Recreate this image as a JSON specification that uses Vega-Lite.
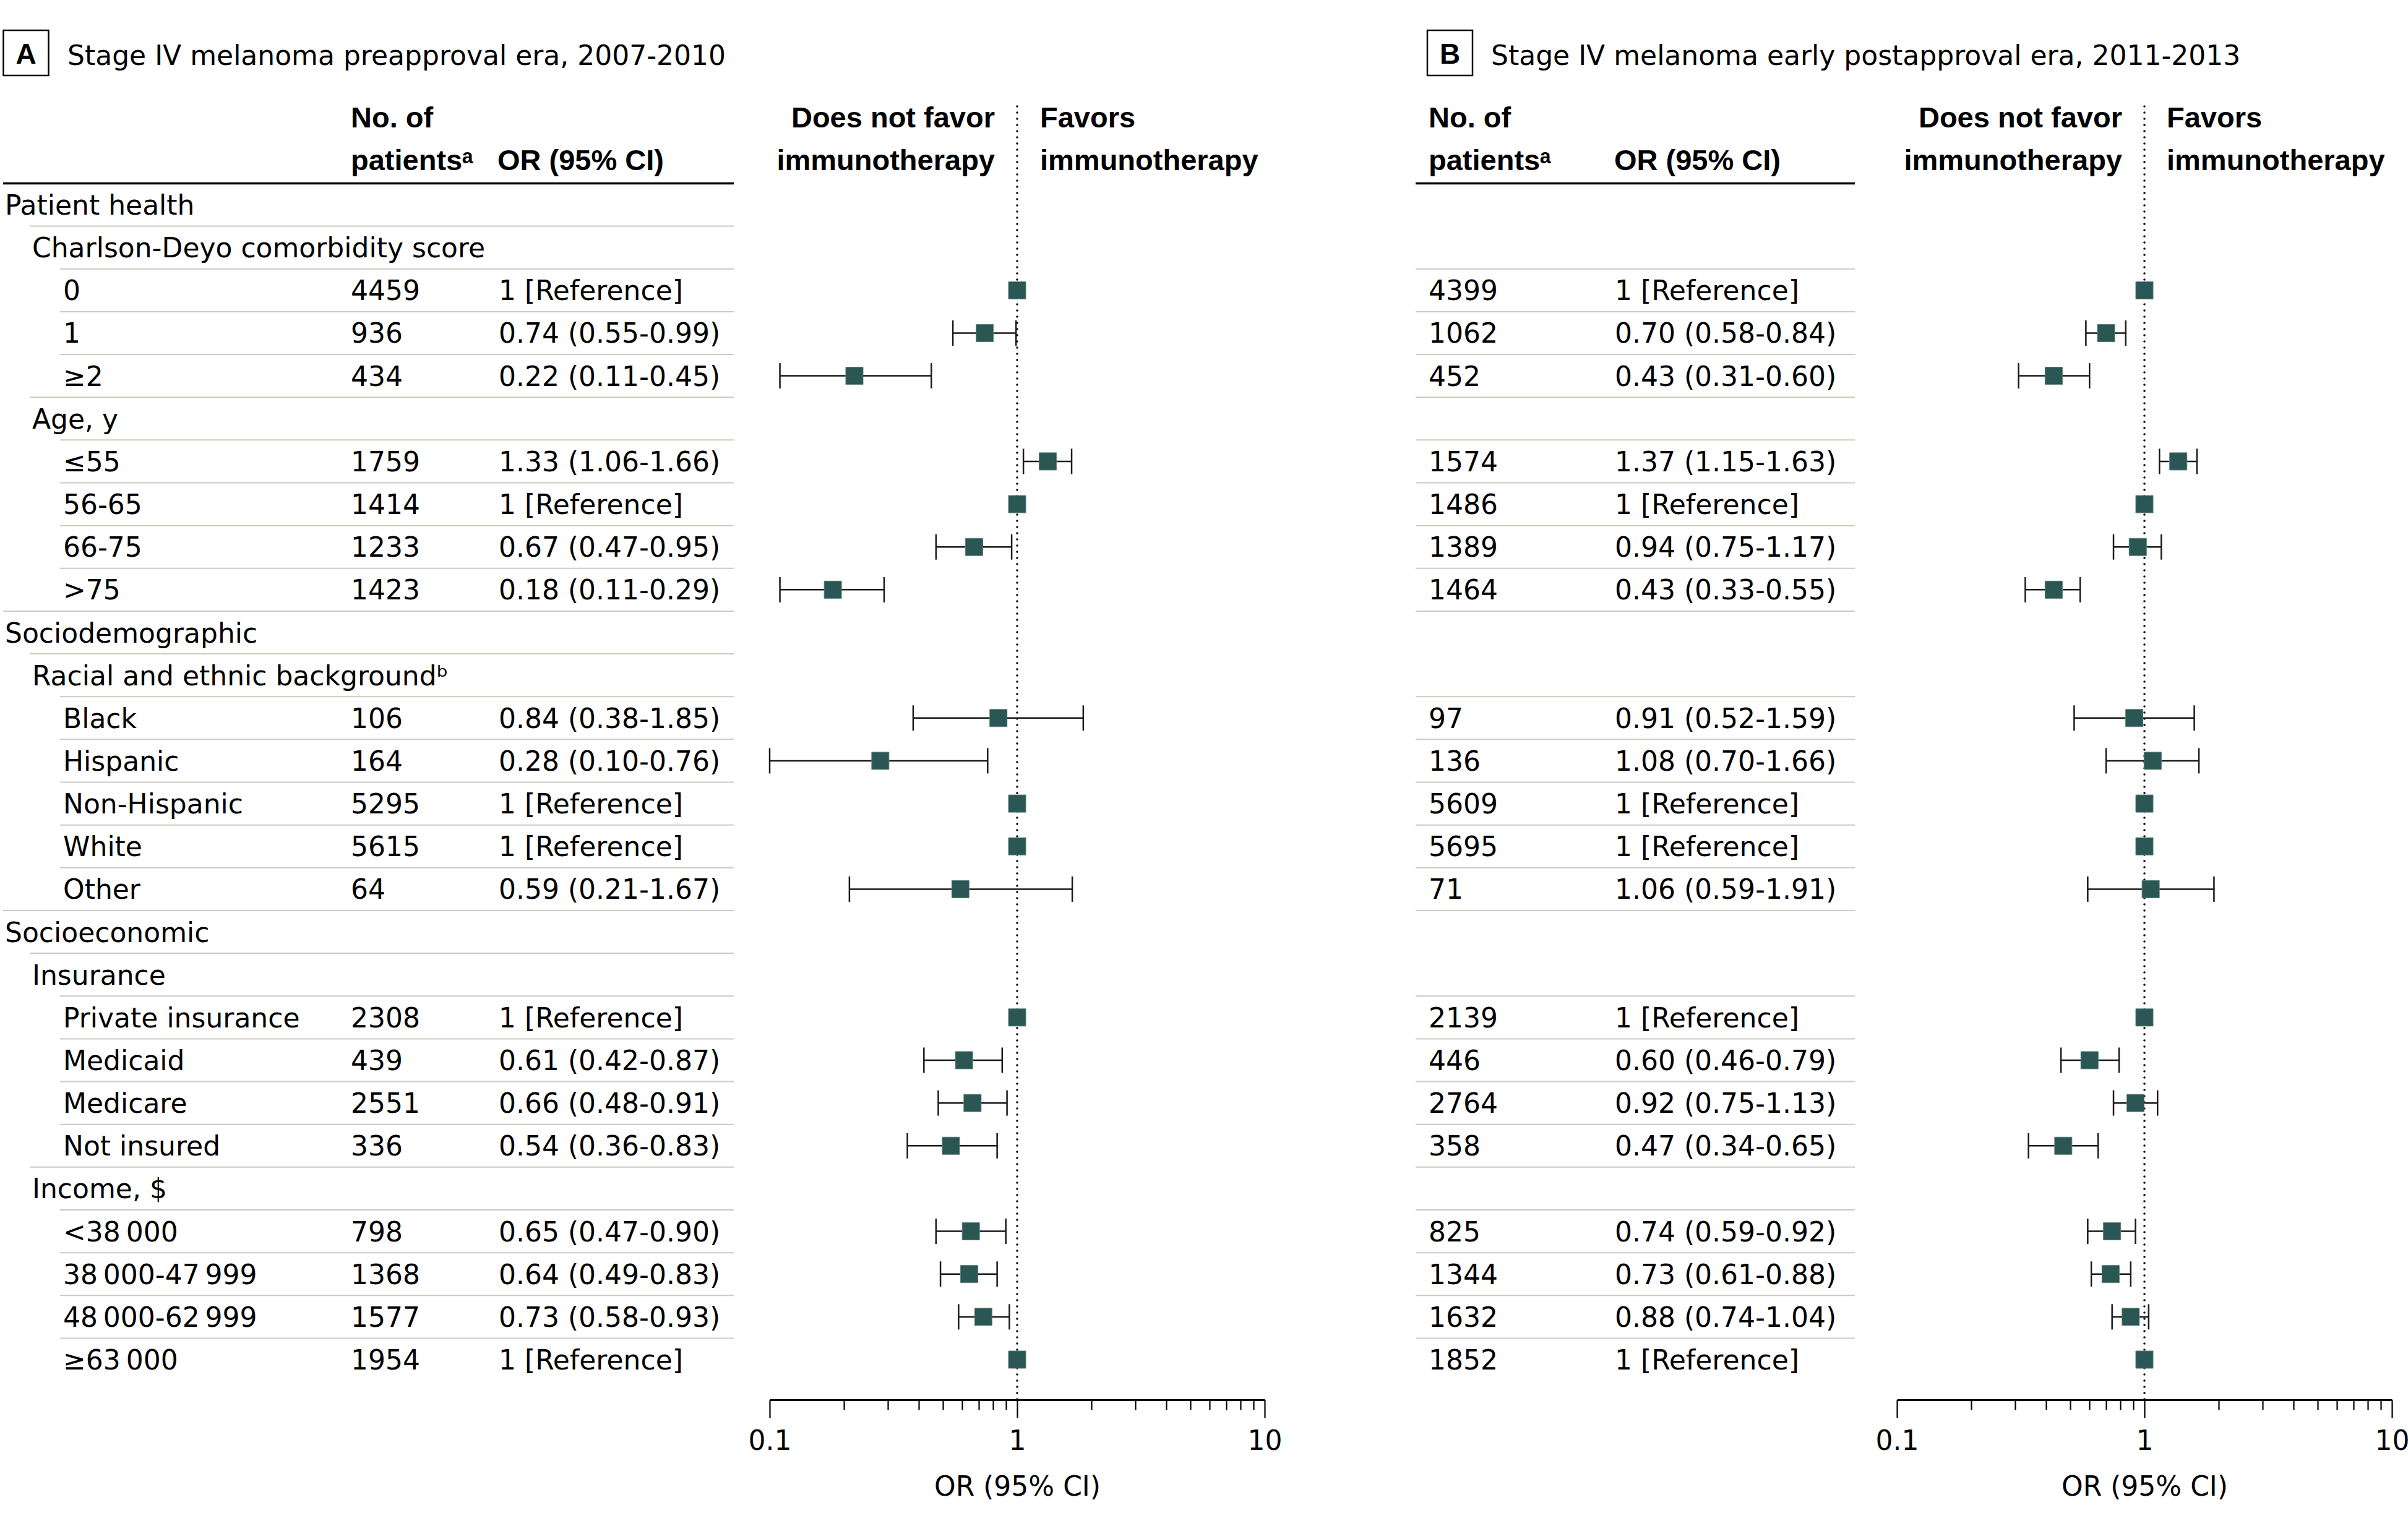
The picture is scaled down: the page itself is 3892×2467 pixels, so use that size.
{
  "$schema": "https://vega.github.io/schema/vega-lite/v6.json",
  "padding": {"left": 0, "top": 0, "right": 0, "bottom": 204},
  "background": "white",
  "spacing": 0,
  "bounds": "flush",
  "config": {"view": {"stroke": null}},
  "datasets": {
    "rows": [
      {"row": "r01", "label": "Patient health", "level": 0},
      {"row": "r02", "label": "Charlson-Deyo comorbidity score", "level": 1},
      {"row": "r03", "label": "0", "level": 2},
      {"row": "r04", "label": "1", "level": 2},
      {"row": "r05", "label": "\u22652", "level": 2},
      {"row": "r06", "label": "Age, y", "level": 1},
      {"row": "r07", "label": "\u226455", "level": 2},
      {"row": "r08", "label": "56-65", "level": 2},
      {"row": "r09", "label": "66-75", "level": 2},
      {"row": "r10", "label": ">75", "level": 2},
      {"row": "r11", "label": "Sociodemographic", "level": 0},
      {"row": "r12", "label": "Racial and ethnic background\u1d47", "level": 1},
      {"row": "r13", "label": "Black", "level": 2},
      {"row": "r14", "label": "Hispanic", "level": 2},
      {"row": "r15", "label": "Non-Hispanic", "level": 2},
      {"row": "r16", "label": "White", "level": 2},
      {"row": "r17", "label": "Other", "level": 2},
      {"row": "r18", "label": "Socioeconomic", "level": 0},
      {"row": "r19", "label": "Insurance", "level": 1},
      {"row": "r20", "label": "Private insurance", "level": 2},
      {"row": "r21", "label": "Medicaid", "level": 2},
      {"row": "r22", "label": "Medicare", "level": 2},
      {"row": "r23", "label": "Not insured", "level": 2},
      {"row": "r24", "label": "Income, $", "level": 1},
      {"row": "r25", "label": "<38\u2009000", "level": 2},
      {"row": "r26", "label": "38\u2009000-47\u2009999", "level": 2},
      {"row": "r27", "label": "48\u2009000-62\u2009999", "level": 2},
      {"row": "r28", "label": "\u226563\u2009000", "level": 2}
    ],
    "estimates": [
      {"panel": "A", "row": "r03", "n": 4459, "ortext": "1 [Reference]", "or": 1},
      {"panel": "A", "row": "r04", "n": 936, "ortext": "0.74 (0.55-0.99)", "or": 0.74, "lo": 0.55, "hi": 0.99},
      {"panel": "A", "row": "r05", "n": 434, "ortext": "0.22 (0.11-0.45)", "or": 0.22, "lo": 0.11, "hi": 0.45},
      {"panel": "A", "row": "r07", "n": 1759, "ortext": "1.33 (1.06-1.66)", "or": 1.33, "lo": 1.06, "hi": 1.66},
      {"panel": "A", "row": "r08", "n": 1414, "ortext": "1 [Reference]", "or": 1},
      {"panel": "A", "row": "r09", "n": 1233, "ortext": "0.67 (0.47-0.95)", "or": 0.67, "lo": 0.47, "hi": 0.95},
      {"panel": "A", "row": "r10", "n": 1423, "ortext": "0.18 (0.11-0.29)", "or": 0.18, "lo": 0.11, "hi": 0.29},
      {"panel": "A", "row": "r13", "n": 106, "ortext": "0.84 (0.38-1.85)", "or": 0.84, "lo": 0.38, "hi": 1.85},
      {"panel": "A", "row": "r14", "n": 164, "ortext": "0.28 (0.10-0.76)", "or": 0.28, "lo": 0.10, "hi": 0.76},
      {"panel": "A", "row": "r15", "n": 5295, "ortext": "1 [Reference]", "or": 1},
      {"panel": "A", "row": "r16", "n": 5615, "ortext": "1 [Reference]", "or": 1},
      {"panel": "A", "row": "r17", "n": 64, "ortext": "0.59 (0.21-1.67)", "or": 0.59, "lo": 0.21, "hi": 1.67},
      {"panel": "A", "row": "r20", "n": 2308, "ortext": "1 [Reference]", "or": 1},
      {"panel": "A", "row": "r21", "n": 439, "ortext": "0.61 (0.42-0.87)", "or": 0.61, "lo": 0.42, "hi": 0.87},
      {"panel": "A", "row": "r22", "n": 2551, "ortext": "0.66 (0.48-0.91)", "or": 0.66, "lo": 0.48, "hi": 0.91},
      {"panel": "A", "row": "r23", "n": 336, "ortext": "0.54 (0.36-0.83)", "or": 0.54, "lo": 0.36, "hi": 0.83},
      {"panel": "A", "row": "r25", "n": 798, "ortext": "0.65 (0.47-0.90)", "or": 0.65, "lo": 0.47, "hi": 0.90},
      {"panel": "A", "row": "r26", "n": 1368, "ortext": "0.64 (0.49-0.83)", "or": 0.64, "lo": 0.49, "hi": 0.83},
      {"panel": "A", "row": "r27", "n": 1577, "ortext": "0.73 (0.58-0.93)", "or": 0.73, "lo": 0.58, "hi": 0.93},
      {"panel": "A", "row": "r28", "n": 1954, "ortext": "1 [Reference]", "or": 1},
      {"panel": "B", "row": "r03", "n": 4399, "ortext": "1 [Reference]", "or": 1},
      {"panel": "B", "row": "r04", "n": 1062, "ortext": "0.70 (0.58-0.84)", "or": 0.70, "lo": 0.58, "hi": 0.84},
      {"panel": "B", "row": "r05", "n": 452, "ortext": "0.43 (0.31-0.60)", "or": 0.43, "lo": 0.31, "hi": 0.60},
      {"panel": "B", "row": "r07", "n": 1574, "ortext": "1.37 (1.15-1.63)", "or": 1.37, "lo": 1.15, "hi": 1.63},
      {"panel": "B", "row": "r08", "n": 1486, "ortext": "1 [Reference]", "or": 1},
      {"panel": "B", "row": "r09", "n": 1389, "ortext": "0.94 (0.75-1.17)", "or": 0.94, "lo": 0.75, "hi": 1.17},
      {"panel": "B", "row": "r10", "n": 1464, "ortext": "0.43 (0.33-0.55)", "or": 0.43, "lo": 0.33, "hi": 0.55},
      {"panel": "B", "row": "r13", "n": 97, "ortext": "0.91 (0.52-1.59)", "or": 0.91, "lo": 0.52, "hi": 1.59},
      {"panel": "B", "row": "r14", "n": 136, "ortext": "1.08 (0.70-1.66)", "or": 1.08, "lo": 0.70, "hi": 1.66},
      {"panel": "B", "row": "r15", "n": 5609, "ortext": "1 [Reference]", "or": 1},
      {"panel": "B", "row": "r16", "n": 5695, "ortext": "1 [Reference]", "or": 1},
      {"panel": "B", "row": "r17", "n": 71, "ortext": "1.06 (0.59-1.91)", "or": 1.06, "lo": 0.59, "hi": 1.91},
      {"panel": "B", "row": "r20", "n": 2139, "ortext": "1 [Reference]", "or": 1},
      {"panel": "B", "row": "r21", "n": 446, "ortext": "0.60 (0.46-0.79)", "or": 0.60, "lo": 0.46, "hi": 0.79},
      {"panel": "B", "row": "r22", "n": 2764, "ortext": "0.92 (0.75-1.13)", "or": 0.92, "lo": 0.75, "hi": 1.13},
      {"panel": "B", "row": "r23", "n": 358, "ortext": "0.47 (0.34-0.65)", "or": 0.47, "lo": 0.34, "hi": 0.65},
      {"panel": "B", "row": "r25", "n": 825, "ortext": "0.74 (0.59-0.92)", "or": 0.74, "lo": 0.59, "hi": 0.92},
      {"panel": "B", "row": "r26", "n": 1344, "ortext": "0.73 (0.61-0.88)", "or": 0.73, "lo": 0.61, "hi": 0.88},
      {"panel": "B", "row": "r27", "n": 1632, "ortext": "0.88 (0.74-1.04)", "or": 0.88, "lo": 0.74, "hi": 1.04},
      {"panel": "B", "row": "r28", "n": 1852, "ortext": "1 [Reference]", "or": 1}
    ],
    "headers": [
      {"row": "h1", "key": "n", "text": "No. of"},
      {"row": "h2", "key": "n", "text": "patients\u1d43"},
      {"row": "h2", "key": "ortext", "text": "OR (95% CI)"}
    ],
    "favor": [
      {"row": "h1", "side": "against", "text": "Does not favor"},
      {"row": "h2", "side": "against", "text": "immunotherapy"},
      {"row": "h1", "side": "for", "text": "Favors"},
      {"row": "h2", "side": "for", "text": "immunotherapy"}
    ],
    "titles": [
      {"panel": "A", "letter": "A", "title": "Stage IV melanoma preapproval era, 2007-2010"},
      {"panel": "B", "letter": "B", "title": "Stage IV melanoma early postapproval era, 2011-2013"}
    ]
  },
  "hconcat": [
    {
      "width": 1181,
      "height": 2263,
      "resolve": {"scale": {"x": "independent"}},
      "layer": [
        {
          "data": {"name": "titles"},
          "transform": [{"filter": "datum.panel === 'A'"}],
          "mark": {"type": "point", "shape": "square", "filled": false, "size": 5329, "stroke": "#000", "strokeWidth": 2.5, "opacity": 1, "xOffset": 37, "yOffset": -3.5},
          "encoding": {
            "x": {"datum": 0, "type": "quantitative", "scale": {"domain": [0, 1, 2], "range": [0, 43, 92], "nice": false, "zero": false}, "axis": null},
            "y": {"datum": "t", "type": "nominal", "bandPosition": 0, "scale": {"type": "band", "domain": ["t","h1","h2","r01","r02","r03","r04","r05","r06","r07","r08","r09","r10","r11","r12","r13","r14","r15","r16","r17","r18","r19","r20","r21","r22","r23","r24","r25","r26","r27","r28"], "range": [89, 2232.6], "paddingInner": 0, "paddingOuter": 0}, "axis": null}
          }
        },
        {
          "data": {"name": "titles"},
          "transform": [{"filter": "datum.panel === 'A'"}],
          "mark": {"type": "text", "font": "Liberation Sans", "fontSize": 46, "fontWeight": "bold", "align": "center", "baseline": "middle", "dx": 37, "color": "#000"},
          "encoding": {
            "x": {"datum": 0, "type": "quantitative", "scale": {"domain": [0, 1, 2], "range": [0, 43, 92], "nice": false, "zero": false}, "axis": null},
            "y": {"datum": "t", "type": "nominal", "bandPosition": 0, "scale": {"type": "band", "domain": ["t","h1","h2","r01","r02","r03","r04","r05","r06","r07","r08","r09","r10","r11","r12","r13","r14","r15","r16","r17","r18","r19","r20","r21","r22","r23","r24","r25","r26","r27","r28"], "range": [89, 2232.6], "paddingInner": 0, "paddingOuter": 0}, "axis": null},
            "text": {"field": "letter", "type": "nominal"}
          }
        },
        {
          "data": {"name": "titles"},
          "transform": [{"filter": "datum.panel === 'A'"}],
          "mark": {"type": "text", "font": "DejaVu Sans", "fontSize": 44, "align": "left", "baseline": "middle", "dx": 104, "dy": 3, "color": "#000"},
          "encoding": {
            "x": {"datum": 0, "type": "quantitative", "scale": {"domain": [0, 1, 2], "range": [0, 43, 92], "nice": false, "zero": false}, "axis": null},
            "y": {"datum": "t", "type": "nominal", "bandPosition": 0, "scale": {"type": "band", "domain": ["t","h1","h2","r01","r02","r03","r04","r05","r06","r07","r08","r09","r10","r11","r12","r13","r14","r15","r16","r17","r18","r19","r20","r21","r22","r23","r24","r25","r26","r27","r28"], "range": [89, 2232.6], "paddingInner": 0, "paddingOuter": 0}, "axis": null},
            "text": {"field": "title", "type": "nominal"}
          }
        },
        {
          "data": {"name": "headers"},
          "mark": {"type": "text", "font": "Liberation Sans, DejaVu Sans", "fontSize": 47, "fontWeight": "bold", "align": "left", "baseline": "middle", "dy": -0.5, "color": "#000"},
          "encoding": {
            "x": {"field": "key", "type": "nominal", "scale": {"type": "point", "domain": ["n", "ortext"], "range": [562, 799], "padding": 0}, "axis": null},
            "y": {"field": "row", "type": "nominal", "bandPosition": 0.5, "scale": {"type": "band", "domain": ["t","h1","h2","r01","r02","r03","r04","r05","r06","r07","r08","r09","r10","r11","r12","r13","r14","r15","r16","r17","r18","r19","r20","r21","r22","r23","r24","r25","r26","r27","r28"], "range": [89, 2232.6], "paddingInner": 0, "paddingOuter": 0}, "axis": null},
            "text": {"field": "text", "type": "nominal"}
          }
        },
        {
          "data": {"name": "rows"},
          "transform": [{"filter": "datum.row === 'r01'"}],
          "mark": {"type": "rule", "color": "#000", "strokeWidth": 3.5},
          "encoding": {
            "y": {"field": "row", "type": "nominal", "bandPosition": 0, "scale": {"type": "band", "domain": ["t","h1","h2","r01","r02","r03","r04","r05","r06","r07","r08","r09","r10","r11","r12","r13","r14","r15","r16","r17","r18","r19","r20","r21","r22","r23","r24","r25","r26","r27","r28"], "range": [89, 2232.6], "paddingInner": 0, "paddingOuter": 0}, "axis": null}
          }
        },
        {
          "data": {"name": "rows"},
          "transform": [{"filter": "datum.row !== 'r01'"}],
          "mark": {"type": "rule", "color": "#c9ccbd", "strokeWidth": 2},
          "encoding": {
            "x": {"field": "level", "type": "quantitative", "scale": {"domain": [0, 1, 2], "range": [0, 43, 92], "nice": false, "zero": false}, "axis": null},
            "x2": {"value": "width"},
            "y": {"field": "row", "type": "nominal", "bandPosition": 0, "scale": {"type": "band", "domain": ["t","h1","h2","r01","r02","r03","r04","r05","r06","r07","r08","r09","r10","r11","r12","r13","r14","r15","r16","r17","r18","r19","r20","r21","r22","r23","r24","r25","r26","r27","r28"], "range": [89, 2232.6], "paddingInner": 0, "paddingOuter": 0}, "axis": null}
          }
        },
        {
          "data": {"name": "rows"},
          "mark": {"type": "text", "font": "DejaVu Sans", "fontSize": 44, "align": "left", "baseline": "middle", "dy": 3, "color": "#000"},
          "encoding": {
            "x": {"field": "level", "type": "quantitative", "scale": {"domain": [0, 1, 2], "range": [3, 47, 97], "nice": false, "zero": false}, "axis": null},
            "y": {"field": "row", "type": "nominal", "bandPosition": 0.5, "scale": {"type": "band", "domain": ["t","h1","h2","r01","r02","r03","r04","r05","r06","r07","r08","r09","r10","r11","r12","r13","r14","r15","r16","r17","r18","r19","r20","r21","r22","r23","r24","r25","r26","r27","r28"], "range": [89, 2232.6], "paddingInner": 0, "paddingOuter": 0}, "axis": null},
            "text": {"field": "label", "type": "nominal"}
          }
        },
        {
          "data": {"name": "estimates"},
          "transform": [{"filter": "datum.panel === 'A'"}, {"fold": ["n", "ortext"]}],
          "mark": {"type": "text", "font": "DejaVu Sans", "fontSize": 44, "align": "left", "baseline": "middle", "dy": 3, "color": "#000"},
          "encoding": {
            "x": {"field": "key", "type": "nominal", "scale": {"type": "point", "domain": ["n", "ortext"], "range": [562, 801], "padding": 0}, "axis": null},
            "y": {"field": "row", "type": "nominal", "bandPosition": 0.5, "scale": {"type": "band", "domain": ["t","h1","h2","r01","r02","r03","r04","r05","r06","r07","r08","r09","r10","r11","r12","r13","r14","r15","r16","r17","r18","r19","r20","r21","r22","r23","r24","r25","r26","r27","r28"], "range": [89, 2232.6], "paddingInner": 0, "paddingOuter": 0}, "axis": null},
            "text": {"field": "value", "type": "nominal"}
          }
        }
      ]
    },
    {
      "width": 1102,
      "height": 2263,
      "resolve": {"scale": {"x": "independent"}, "axis": {"x": "independent"}},
      "layer": [
        {
          "data": {"name": "titles"},
          "transform": [{"filter": "datum.panel === 'A'"}],
          "mark": {"type": "rule", "color": "#000", "strokeWidth": 3.5, "strokeDash": [0.1, 9.9], "strokeCap": "round"},
          "encoding": {
            "x": {"datum": 1, "type": "quantitative", "scale": {"type": "log", "domain": [0.1, 10], "range": [58, 858], "nice": false}, "axis": null},
            "y": {"datum": "h1", "type": "nominal", "bandPosition": 0.2, "scale": {"type": "band", "domain": ["t","h1","h2","r01","r02","r03","r04","r05","r06","r07","r08","r09","r10","r11","r12","r13","r14","r15","r16","r17","r18","r19","r20","r21","r22","r23","r24","r25","r26","r27","r28"], "range": [89, 2232.6], "paddingInner": 0, "paddingOuter": 0}, "axis": null},
            "y2": {"value": "height"}
          }
        },
        {
          "data": {"name": "favor"},
          "transform": [{"filter": "datum.side === 'against'"}],
          "mark": {"type": "text", "font": "Liberation Sans", "fontSize": 47, "fontWeight": "bold", "align": "right", "baseline": "middle", "dx": -36, "dy": -0.5, "color": "#000"},
          "encoding": {
            "x": {"datum": 1, "type": "quantitative", "scale": {"type": "log", "domain": [0.1, 10], "range": [58, 858], "nice": false}, "axis": null},
            "y": {"field": "row", "type": "nominal", "bandPosition": 0.5, "scale": {"type": "band", "domain": ["t","h1","h2","r01","r02","r03","r04","r05","r06","r07","r08","r09","r10","r11","r12","r13","r14","r15","r16","r17","r18","r19","r20","r21","r22","r23","r24","r25","r26","r27","r28"], "range": [89, 2232.6], "paddingInner": 0, "paddingOuter": 0}, "axis": null},
            "text": {"field": "text", "type": "nominal"}
          }
        },
        {
          "data": {"name": "favor"},
          "transform": [{"filter": "datum.side === 'for'"}],
          "mark": {"type": "text", "font": "Liberation Sans", "fontSize": 47, "fontWeight": "bold", "align": "left", "baseline": "middle", "dx": 37, "dy": -0.5, "color": "#000"},
          "encoding": {
            "x": {"datum": 1, "type": "quantitative", "scale": {"type": "log", "domain": [0.1, 10], "range": [58, 858], "nice": false}, "axis": null},
            "y": {"field": "row", "type": "nominal", "bandPosition": 0.5, "scale": {"type": "band", "domain": ["t","h1","h2","r01","r02","r03","r04","r05","r06","r07","r08","r09","r10","r11","r12","r13","r14","r15","r16","r17","r18","r19","r20","r21","r22","r23","r24","r25","r26","r27","r28"], "range": [89, 2232.6], "paddingInner": 0, "paddingOuter": 0}, "axis": null},
            "text": {"field": "text", "type": "nominal"}
          }
        },
        {
          "data": {"name": "estimates"},
          "transform": [{"filter": "datum.panel === 'A' && isValid(datum.lo)"}],
          "mark": {"type": "rule", "color": "#1a1a1a", "strokeWidth": 2.5},
          "encoding": {
            "x": {
              "field": "lo", "type": "quantitative",
              "scale": {"type": "log", "domain": [0.1, 10], "range": [58, 858], "nice": false},
              "axis": {
                "orient": "bottom",
                "values": [0.2, 0.3, 0.4, 0.5, 0.6, 0.7, 0.8, 0.9, 2, 3, 4, 5, 6, 7, 8, 9],
                "labels": false, "domain": false, "grid": false, "title": null,
                "tickSize": 16, "tickWidth": 2.2, "tickColor": "#000"
              }
            },
            "x2": {"field": "hi"},
            "y": {"field": "row", "type": "nominal", "bandPosition": 0.5, "scale": {"type": "band", "domain": ["t","h1","h2","r01","r02","r03","r04","r05","r06","r07","r08","r09","r10","r11","r12","r13","r14","r15","r16","r17","r18","r19","r20","r21","r22","r23","r24","r25","r26","r27","r28"], "range": [89, 2232.6], "paddingInner": 0, "paddingOuter": 0}, "axis": null}
          }
        },
        {
          "data": {"name": "estimates"},
          "transform": [{"filter": "datum.panel === 'A' && isValid(datum.lo)"}, {"fold": ["lo", "hi"], "as": ["end", "bound"]}],
          "mark": {"type": "tick", "color": "#1a1a1a", "size": 41, "thickness": 2.5, "opacity": 1},
          "encoding": {
            "x": {"field": "bound", "type": "quantitative", "scale": {"type": "log", "domain": [0.1, 10], "range": [58, 858], "nice": false}, "axis": null},
            "y": {"field": "row", "type": "nominal", "bandPosition": 0.5, "scale": {"type": "band", "domain": ["t","h1","h2","r01","r02","r03","r04","r05","r06","r07","r08","r09","r10","r11","r12","r13","r14","r15","r16","r17","r18","r19","r20","r21","r22","r23","r24","r25","r26","r27","r28"], "range": [89, 2232.6], "paddingInner": 0, "paddingOuter": 0}, "axis": null}
          }
        },
        {
          "data": {"name": "estimates"},
          "transform": [{"filter": "datum.panel === 'A'"}],
          "mark": {"type": "point", "shape": "square", "filled": true, "size": 784, "color": "#2a5654", "stroke": "#5f807e", "strokeWidth": 1, "opacity": 1},
          "encoding": {
            "x": {
              "field": "or", "type": "quantitative",
              "scale": {"type": "log", "domain": [0.1, 10], "range": [58, 858], "nice": false},
              "axis": {
                "orient": "bottom",
                "values": [0.1, 1, 10],
                "format": "~g",
                "tickSize": 29, "tickWidth": 2.2, "tickColor": "#000",
                "domainColor": "#000", "domainWidth": 3,
                "labelFont": "DejaVu Sans", "labelFontSize": 44, "labelColor": "#000", "labelPadding": 16,
                "labelFlush": false, "labelOverlap": false, "labelBound": false,
                "grid": false,
                "title": "OR (95% CI)", "titleFont": "DejaVu Sans", "titleFontSize": 44, "titleFontWeight": "normal", "titleColor": "#000", "titlePadding": 30
              }
            },
            "y": {"field": "row", "type": "nominal", "bandPosition": 0.5, "scale": {"type": "band", "domain": ["t","h1","h2","r01","r02","r03","r04","r05","r06","r07","r08","r09","r10","r11","r12","r13","r14","r15","r16","r17","r18","r19","r20","r21","r22","r23","r24","r25","r26","r27","r28"], "range": [89, 2232.6], "paddingInner": 0, "paddingOuter": 0}, "axis": null}
          }
        }
      ]
    },
    {
      "width": 710,
      "height": 2263,
      "resolve": {"scale": {"x": "independent"}},
      "layer": [
        {
          "data": {"name": "titles"},
          "transform": [{"filter": "datum.panel === 'B'"}],
          "mark": {"type": "point", "shape": "square", "filled": false, "size": 5329, "stroke": "#000", "strokeWidth": 2.5, "opacity": 1, "xOffset": 34.5, "yOffset": -3.5},
          "encoding": {
            "x": {"datum": "n", "type": "nominal", "scale": {"type": "point", "domain": ["n", "ortext"], "range": [21, 321], "padding": 0}, "axis": null},
            "y": {"datum": "t", "type": "nominal", "bandPosition": 0, "scale": {"type": "band", "domain": ["t","h1","h2","r01","r02","r03","r04","r05","r06","r07","r08","r09","r10","r11","r12","r13","r14","r15","r16","r17","r18","r19","r20","r21","r22","r23","r24","r25","r26","r27","r28"], "range": [89, 2232.6], "paddingInner": 0, "paddingOuter": 0}, "axis": null}
          }
        },
        {
          "data": {"name": "titles"},
          "transform": [{"filter": "datum.panel === 'B'"}],
          "mark": {"type": "text", "font": "Liberation Sans", "fontSize": 46, "fontWeight": "bold", "align": "center", "baseline": "middle", "dx": 34.5, "color": "#000"},
          "encoding": {
            "x": {"datum": "n", "type": "nominal", "scale": {"type": "point", "domain": ["n", "ortext"], "range": [21, 321], "padding": 0}, "axis": null},
            "y": {"datum": "t", "type": "nominal", "bandPosition": 0, "scale": {"type": "band", "domain": ["t","h1","h2","r01","r02","r03","r04","r05","r06","r07","r08","r09","r10","r11","r12","r13","r14","r15","r16","r17","r18","r19","r20","r21","r22","r23","r24","r25","r26","r27","r28"], "range": [89, 2232.6], "paddingInner": 0, "paddingOuter": 0}, "axis": null},
            "text": {"field": "letter", "type": "nominal"}
          }
        },
        {
          "data": {"name": "titles"},
          "transform": [{"filter": "datum.panel === 'B'"}],
          "mark": {"type": "text", "font": "DejaVu Sans", "fontSize": 44, "align": "left", "baseline": "middle", "dx": 101, "dy": 3, "color": "#000"},
          "encoding": {
            "x": {"datum": "n", "type": "nominal", "scale": {"type": "point", "domain": ["n", "ortext"], "range": [21, 321], "padding": 0}, "axis": null},
            "y": {"datum": "t", "type": "nominal", "bandPosition": 0, "scale": {"type": "band", "domain": ["t","h1","h2","r01","r02","r03","r04","r05","r06","r07","r08","r09","r10","r11","r12","r13","r14","r15","r16","r17","r18","r19","r20","r21","r22","r23","r24","r25","r26","r27","r28"], "range": [89, 2232.6], "paddingInner": 0, "paddingOuter": 0}, "axis": null},
            "text": {"field": "title", "type": "nominal"}
          }
        },
        {
          "data": {"name": "headers"},
          "mark": {"type": "text", "font": "Liberation Sans, DejaVu Sans", "fontSize": 47, "fontWeight": "bold", "align": "left", "baseline": "middle", "dy": -0.5, "color": "#000"},
          "encoding": {
            "x": {"field": "key", "type": "nominal", "scale": {"type": "point", "domain": ["n", "ortext"], "range": [21, 321], "padding": 0}, "axis": null},
            "y": {"field": "row", "type": "nominal", "bandPosition": 0.5, "scale": {"type": "band", "domain": ["t","h1","h2","r01","r02","r03","r04","r05","r06","r07","r08","r09","r10","r11","r12","r13","r14","r15","r16","r17","r18","r19","r20","r21","r22","r23","r24","r25","r26","r27","r28"], "range": [89, 2232.6], "paddingInner": 0, "paddingOuter": 0}, "axis": null},
            "text": {"field": "text", "type": "nominal"}
          }
        },
        {
          "data": {"name": "rows"},
          "transform": [{"filter": "datum.row === 'r01'"}],
          "mark": {"type": "rule", "color": "#000", "strokeWidth": 3.5},
          "encoding": {
            "y": {"field": "row", "type": "nominal", "bandPosition": 0, "scale": {"type": "band", "domain": ["t","h1","h2","r01","r02","r03","r04","r05","r06","r07","r08","r09","r10","r11","r12","r13","r14","r15","r16","r17","r18","r19","r20","r21","r22","r23","r24","r25","r26","r27","r28"], "range": [89, 2232.6], "paddingInner": 0, "paddingOuter": 0}, "axis": null}
          }
        },
        {
          "data": {"name": "rows"},
          "transform": [{"filter": {"not": {"field": "row", "oneOf": ["r01", "r02", "r12", "r19"]}}}],
          "mark": {"type": "rule", "color": "#c9ccbd", "strokeWidth": 2},
          "encoding": {
            "y": {"field": "row", "type": "nominal", "bandPosition": 0, "scale": {"type": "band", "domain": ["t","h1","h2","r01","r02","r03","r04","r05","r06","r07","r08","r09","r10","r11","r12","r13","r14","r15","r16","r17","r18","r19","r20","r21","r22","r23","r24","r25","r26","r27","r28"], "range": [89, 2232.6], "paddingInner": 0, "paddingOuter": 0}, "axis": null}
          }
        },
        {
          "data": {"name": "estimates"},
          "transform": [{"filter": "datum.panel === 'B'"}, {"fold": ["n", "ortext"]}],
          "mark": {"type": "text", "font": "DejaVu Sans", "fontSize": 44, "align": "left", "baseline": "middle", "dy": 3, "color": "#000"},
          "encoding": {
            "x": {"field": "key", "type": "nominal", "scale": {"type": "point", "domain": ["n", "ortext"], "range": [21, 322], "padding": 0}, "axis": null},
            "y": {"field": "row", "type": "nominal", "bandPosition": 0.5, "scale": {"type": "band", "domain": ["t","h1","h2","r01","r02","r03","r04","r05","r06","r07","r08","r09","r10","r11","r12","r13","r14","r15","r16","r17","r18","r19","r20","r21","r22","r23","r24","r25","r26","r27","r28"], "range": [89, 2232.6], "paddingInner": 0, "paddingOuter": 0}, "axis": null},
            "text": {"field": "value", "type": "nominal"}
          }
        }
      ]
    },
    {
      "width": 899,
      "height": 2263,
      "resolve": {"scale": {"x": "independent"}, "axis": {"x": "independent"}},
      "layer": [
        {
          "data": {"name": "titles"},
          "transform": [{"filter": "datum.panel === 'B'"}],
          "mark": {"type": "rule", "color": "#000", "strokeWidth": 3.5, "strokeDash": [0.1, 9.9], "strokeCap": "round"},
          "encoding": {
            "x": {"datum": 1, "type": "quantitative", "scale": {"type": "log", "domain": [0.1, 10], "range": [68, 868], "nice": false}, "axis": null},
            "y": {"datum": "h1", "type": "nominal", "bandPosition": 0.2, "scale": {"type": "band", "domain": ["t","h1","h2","r01","r02","r03","r04","r05","r06","r07","r08","r09","r10","r11","r12","r13","r14","r15","r16","r17","r18","r19","r20","r21","r22","r23","r24","r25","r26","r27","r28"], "range": [89, 2232.6], "paddingInner": 0, "paddingOuter": 0}, "axis": null},
            "y2": {"value": "height"}
          }
        },
        {
          "data": {"name": "favor"},
          "transform": [{"filter": "datum.side === 'against'"}],
          "mark": {"type": "text", "font": "Liberation Sans", "fontSize": 47, "fontWeight": "bold", "align": "right", "baseline": "middle", "dx": -36, "dy": -0.5, "color": "#000"},
          "encoding": {
            "x": {"datum": 1, "type": "quantitative", "scale": {"type": "log", "domain": [0.1, 10], "range": [68, 868], "nice": false}, "axis": null},
            "y": {"field": "row", "type": "nominal", "bandPosition": 0.5, "scale": {"type": "band", "domain": ["t","h1","h2","r01","r02","r03","r04","r05","r06","r07","r08","r09","r10","r11","r12","r13","r14","r15","r16","r17","r18","r19","r20","r21","r22","r23","r24","r25","r26","r27","r28"], "range": [89, 2232.6], "paddingInner": 0, "paddingOuter": 0}, "axis": null},
            "text": {"field": "text", "type": "nominal"}
          }
        },
        {
          "data": {"name": "favor"},
          "transform": [{"filter": "datum.side === 'for'"}],
          "mark": {"type": "text", "font": "Liberation Sans", "fontSize": 47, "fontWeight": "bold", "align": "left", "baseline": "middle", "dx": 36, "dy": -0.5, "color": "#000"},
          "encoding": {
            "x": {"datum": 1, "type": "quantitative", "scale": {"type": "log", "domain": [0.1, 10], "range": [68, 868], "nice": false}, "axis": null},
            "y": {"field": "row", "type": "nominal", "bandPosition": 0.5, "scale": {"type": "band", "domain": ["t","h1","h2","r01","r02","r03","r04","r05","r06","r07","r08","r09","r10","r11","r12","r13","r14","r15","r16","r17","r18","r19","r20","r21","r22","r23","r24","r25","r26","r27","r28"], "range": [89, 2232.6], "paddingInner": 0, "paddingOuter": 0}, "axis": null},
            "text": {"field": "text", "type": "nominal"}
          }
        },
        {
          "data": {"name": "estimates"},
          "transform": [{"filter": "datum.panel === 'B' && isValid(datum.lo)"}],
          "mark": {"type": "rule", "color": "#1a1a1a", "strokeWidth": 2.5},
          "encoding": {
            "x": {
              "field": "lo", "type": "quantitative",
              "scale": {"type": "log", "domain": [0.1, 10], "range": [68, 868], "nice": false},
              "axis": {
                "orient": "bottom",
                "values": [0.2, 0.3, 0.4, 0.5, 0.6, 0.7, 0.8, 0.9, 2, 3, 4, 5, 6, 7, 8, 9],
                "labels": false, "domain": false, "grid": false, "title": null,
                "tickSize": 16, "tickWidth": 2.2, "tickColor": "#000"
              }
            },
            "x2": {"field": "hi"},
            "y": {"field": "row", "type": "nominal", "bandPosition": 0.5, "scale": {"type": "band", "domain": ["t","h1","h2","r01","r02","r03","r04","r05","r06","r07","r08","r09","r10","r11","r12","r13","r14","r15","r16","r17","r18","r19","r20","r21","r22","r23","r24","r25","r26","r27","r28"], "range": [89, 2232.6], "paddingInner": 0, "paddingOuter": 0}, "axis": null}
          }
        },
        {
          "data": {"name": "estimates"},
          "transform": [{"filter": "datum.panel === 'B' && isValid(datum.lo)"}, {"fold": ["lo", "hi"], "as": ["end", "bound"]}],
          "mark": {"type": "tick", "color": "#1a1a1a", "size": 41, "thickness": 2.5, "opacity": 1},
          "encoding": {
            "x": {"field": "bound", "type": "quantitative", "scale": {"type": "log", "domain": [0.1, 10], "range": [68, 868], "nice": false}, "axis": null},
            "y": {"field": "row", "type": "nominal", "bandPosition": 0.5, "scale": {"type": "band", "domain": ["t","h1","h2","r01","r02","r03","r04","r05","r06","r07","r08","r09","r10","r11","r12","r13","r14","r15","r16","r17","r18","r19","r20","r21","r22","r23","r24","r25","r26","r27","r28"], "range": [89, 2232.6], "paddingInner": 0, "paddingOuter": 0}, "axis": null}
          }
        },
        {
          "data": {"name": "estimates"},
          "transform": [{"filter": "datum.panel === 'B'"}],
          "mark": {"type": "point", "shape": "square", "filled": true, "size": 784, "color": "#2a5654", "stroke": "#5f807e", "strokeWidth": 1, "opacity": 1},
          "encoding": {
            "x": {
              "field": "or", "type": "quantitative",
              "scale": {"type": "log", "domain": [0.1, 10], "range": [68, 868], "nice": false},
              "axis": {
                "orient": "bottom",
                "values": [0.1, 1, 10],
                "format": "~g",
                "tickSize": 29, "tickWidth": 2.2, "tickColor": "#000",
                "domainColor": "#000", "domainWidth": 3,
                "labelFont": "DejaVu Sans", "labelFontSize": 44, "labelColor": "#000", "labelPadding": 16,
                "labelFlush": false, "labelOverlap": false, "labelBound": false,
                "grid": false,
                "title": "OR (95% CI)", "titleFont": "DejaVu Sans", "titleFontSize": 44, "titleFontWeight": "normal", "titleColor": "#000", "titlePadding": 30
              }
            },
            "y": {"field": "row", "type": "nominal", "bandPosition": 0.5, "scale": {"type": "band", "domain": ["t","h1","h2","r01","r02","r03","r04","r05","r06","r07","r08","r09","r10","r11","r12","r13","r14","r15","r16","r17","r18","r19","r20","r21","r22","r23","r24","r25","r26","r27","r28"], "range": [89, 2232.6], "paddingInner": 0, "paddingOuter": 0}, "axis": null}
          }
        }
      ]
    }
  ]
}
